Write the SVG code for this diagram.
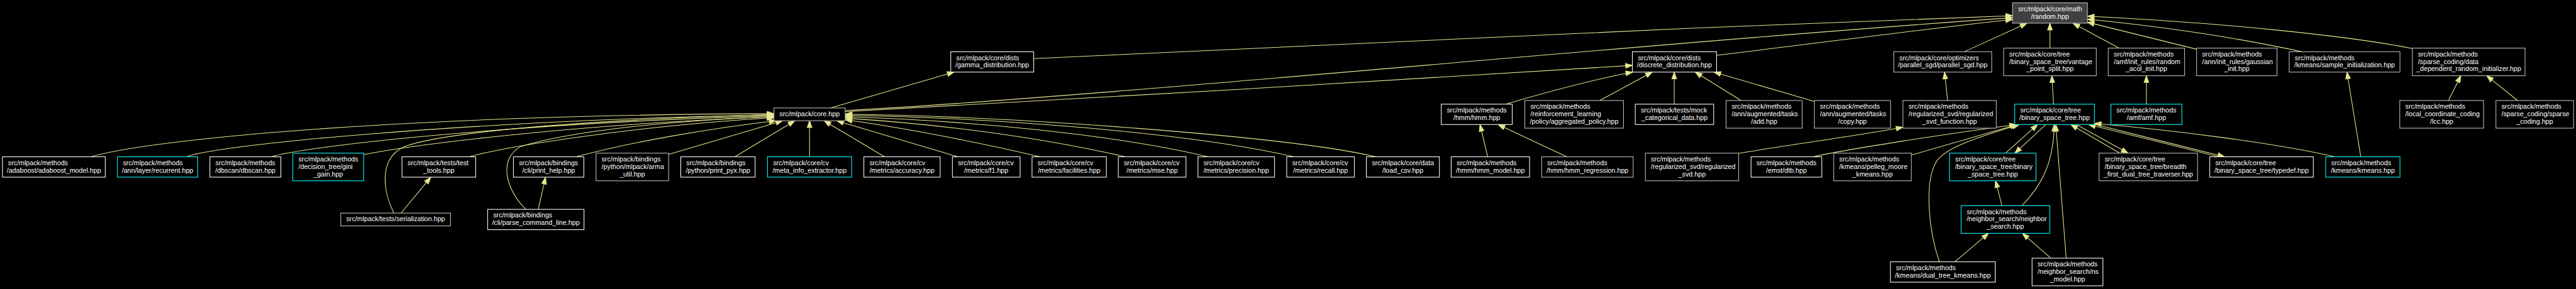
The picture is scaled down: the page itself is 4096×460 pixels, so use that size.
<svg xmlns="http://www.w3.org/2000/svg" width="4096" height="460" viewBox="0 0 4096 460">
<defs>
<marker id="ah" markerUnits="userSpaceOnUse" markerWidth="16" markerHeight="12" refX="13.3" refY="4.67" orient="auto" overflow="visible">
<path d="M0,0 L13.3,4.67 L0,9.33 Z" fill="#e6e68f" stroke="#e6e68f" stroke-width="1.33"/>
</marker>
<style>
.n rect{fill:#000;stroke:#fff;stroke-width:1.33}
.g rect{stroke:#bfbfbf}
.c rect{stroke:#00ffff}
.r rect{fill:#404040;stroke:#bfbfbf}
text{font-family:"Liberation Sans",Arial,Helvetica,sans-serif;font-size:13.33px;fill:#fff}
.m{text-anchor:middle}
.e path{fill:none;stroke:#e6e68f;stroke-width:1.33;marker-end:url(#ah)}
</style>
</defs>
<rect x="0" y="0" width="4096" height="460" fill="#000"/>
<g transform="scale(0.80393)">
<g id="edges" class="e">
<path d="M2044.5,116 C2400,98 3300,55 3980.5,31"/>
<path d="M1671.7,219 C2200,190 3200,90 3980.5,35"/>
<path d="M1671.7,221 C2100,200 2800,155 3228.6,129.5"/>
<path d="M3395.1,109.5 C3600,85 3800,58 3980.5,38.5"/>
<path d="M3885,102.45 L4009,45.9"/>
<path d="M4054.5,95.25 L4054.5,45.9"/>
<path d="M4191,95.25 L4100,45.9"/>
<path d="M4344.5,97.5 L4128.6,44"/>
<path d="M4553,102.45 C4450,80 4300,55 4128.6,38"/>
<path d="M4771.3,96 C4650,72 4400,45 4128.6,32"/>
<path d="M1643,213.75 L1887,142.75"/>
<path d="M2978.4,206.25 C3050,185 3150,158 3229,142.75"/>
<path d="M3164,199.05 L3268,142.75"/>
<path d="M3311.4,206.25 L3311.4,142.75"/>
<path d="M3443.7,199.05 L3353,142.75"/>
<path d="M3588.6,201 L3390,142.75"/>
<path d="M3852.2,199.05 L3846,142.75"/>
<path d="M4061.6,206.25 L4058.4,149.95"/>
<path d="M4245.3,206.25 L4245.3,149.95"/>
<path d="M4669.3,310.45 L4642,142.75"/>
<path d="M4842.8,199.05 L4867.2,149.95"/>
<path d="M4979.5,199.05 L4918.3,149.95"/>
<path d="M180,310.45 C300,275 800,228 1530.7,225"/>
<path d="M369.4,310.45 C420,288 900,240 1530.7,227"/>
<path d="M536.7,310.45 C600,290 1000,245 1530.7,229"/>
<path d="M719.2,306 C800,290 1100,248 1530.7,231"/>
<path d="M928,310.45 C1000,290 1250,250 1530.7,233"/>
<path d="M779,421.95 C760,385 745,315 800,290 C900,255 1250,234 1530.7,227"/>
<path d="M1040,414.45 C1000,375 985,315 1030,290 C1120,262 1300,240 1530.7,231"/>
<path d="M1140,310.45 C1250,280 1420,252 1535,239.05"/>
<path d="M1322.4,305.7 L1548,239.05"/>
<path d="M1453.5,310.45 L1572,239.05"/>
<path d="M1601.2,310.45 L1601.2,239.05"/>
<path d="M1749.4,310.45 L1630,239.05"/>
<path d="M1894.3,310.45 L1655,239.05"/>
<path d="M2056.7,310.45 C1950,285 1800,255 1671.7,237"/>
<path d="M2226,310.45 C2050,270 1850,245 1671.7,234"/>
<path d="M2389.4,310.45 C2200,265 1900,238 1671.7,231"/>
<path d="M2558.8,310.45 C2350,262 1950,232 1671.7,228.5"/>
<path d="M2721.2,310.45 C2550,270 2000,230 1671.7,226"/>
<path d="M793,421.95 L852,351"/>
<path d="M1064.5,414.45 L1079,351"/>
<path d="M2942.4,310.45 L2927.3,246.55"/>
<path d="M3098.8,310.45 L2963,246.55"/>
<path d="M3438.8,303.5 C3550,285 3680,268 3763.8,252"/>
<path d="M3585.7,310.45 C3650,296 3850,265 3988,246.55"/>
<path d="M3780.4,307 L3990,246.55"/>
<path d="M3836,518.35 C3815,460 3805,360 3830,320 C3845,295 3900,275 3994,246.55"/>
<path d="M3966.5,303.25 L4030,246.55"/>
<path d="M4046.6,246.55 L3985,303.25"/>
<path d="M3999.2,407.25 C4040,365 4062,320 4063,246.55"/>
<path d="M4086.7,511.15 L4066,246.55"/>
<path d="M4192.5,303.25 L4095.8,246.55"/>
<path d="M4106.8,246.55 L4208.9,303.25"/>
<path d="M4388,310.45 C4300,288 4200,264 4131,246.55"/>
<path d="M4142.5,246 C4220,266 4320,290 4400,310.45"/>
<path d="M4618.3,310.45 C4500,283 4300,258 4142.5,244.5"/>
<path d="M4056.3,511.15 L4000,462"/>
<path d="M3866.5,518.35 L3933,462"/>
<path d="M3959.6,407.25 L3947,357.95"/>
</g>
<g id="n_random" class="n r"><rect x="3980.5" y="5.6" width="148.1" height="40.3"/><text x="3991.5" y="22.1">src/mlpack/core/math</text><text class="m" x="4054.55" y="36.8">/random.hpp</text></g>
<g id="n_gamma" class="n"><rect x="1880.4" y="102.45" width="164.1" height="40.3"/><text x="1891.4" y="118.95">src/mlpack/core/dists</text><text class="m" x="1962.45" y="133.6">/gamma_distribution.hpp</text></g>
<g id="n_discrete" class="n"><rect x="3228.6" y="102.45" width="166.5" height="40.3"/><text x="3239.6" y="118.95">src/mlpack/core/dists</text><text class="m" x="3311.85" y="133.6">/discrete_distribution.hpp</text></g>
<g id="n_psgd" class="n g"><rect x="3745.6" y="102.45" width="193.7" height="40.3"/><text x="3756.6" y="118.95">src/mlpack/core/optimizers</text><text class="m" x="3842.45" y="133.6">/parallel_sgd/parallel_sgd.hpp</text></g>
<g id="n_vantage" class="n g"><rect x="3963" y="95.25" width="183.2" height="54.7"/><text x="3974" y="111.75">src/mlpack/core/tree</text><text x="3974" y="126.4">/binary_space_tree/vantage</text><text class="m" x="4054.6" y="141.1">_point_split.hpp</text></g>
<g id="n_acol" class="n g"><rect x="4169.8" y="95.25" width="151" height="54.7"/><text x="4180.8" y="111.75">src/mlpack/methods</text><text x="4180.8" y="126.4">/amf/init_rules/random</text><text class="m" x="4245.3" y="141.1">_acol_init.hpp</text></g>
<g id="n_gauss" class="n g"><rect x="4344.5" y="95.25" width="159.1" height="54.7"/><text x="4355.5" y="111.75">src/mlpack/methods</text><text x="4355.5" y="126.4">/ann/init_rules/gaussian</text><text class="m" x="4424.05" y="141.1">_init.hpp</text></g>
<g id="n_sample" class="n g"><rect x="4527.7" y="102.45" width="219.1" height="40.3"/><text x="4538.7" y="118.95">src/mlpack/methods</text><text class="m" x="4637.25" y="133.6">/kmeans/sample_initialization.hpp</text></g>
<g id="n_ddri" class="n g"><rect x="4771.3" y="95.25" width="222.9" height="54.7"/><text x="4782.3" y="111.75">src/mlpack/methods</text><text x="4782.3" y="126.4">/sparse_coding/data</text><text class="m" x="4882.75" y="141.1">_dependent_random_initializer.hpp</text></g>
<g id="n_core" class="n g"><rect x="1530.7" y="213.75" width="141" height="25.3"/><text class="m" x="1601.2" y="230.25">src/mlpack/core.hpp</text></g>
<g id="n_hmm" class="n"><rect x="2850.6" y="206.25" width="140.4" height="40.3"/><text x="2861.6" y="222.75">src/mlpack/methods</text><text class="m" x="2920.8" y="237.4">/hmm/hmm.hpp</text></g>
<g id="n_aggpol" class="n g"><rect x="3015.9" y="199.05" width="195.1" height="54.7"/><text x="3026.9" y="215.55">src/mlpack/methods</text><text x="3026.9" y="230.2">/reinforcement_learning</text><text class="m" x="3113.45" y="244.9">/policy/aggregated_policy.hpp</text></g>
<g id="n_mock" class="n"><rect x="3234.3" y="206.25" width="155.1" height="40.3"/><text x="3245.3" y="222.75">src/mlpack/tests/mock</text><text class="m" x="3311.85" y="237.4">_categorical_data.hpp</text></g>
<g id="n_add" class="n g"><rect x="3413.9" y="199.05" width="150.6" height="54.7"/><text x="3424.9" y="215.55">src/mlpack/methods</text><text x="3424.9" y="230.2">/ann/augmented/tasks</text><text class="m" x="3489.2" y="244.9">/add.hpp</text></g>
<g id="n_copy" class="n g"><rect x="3588.6" y="199.05" width="150.6" height="54.7"/><text x="3599.6" y="215.55">src/mlpack/methods</text><text x="3599.6" y="230.2">/ann/augmented/tasks</text><text class="m" x="3663.9" y="244.9">/copy.hpp</text></g>
<g id="n_rsvdf" class="n g"><rect x="3763.8" y="199.05" width="184.6" height="54.7"/><text x="3774.8" y="215.55">src/mlpack/methods</text><text x="3774.8" y="230.2">/regularized_svd/regularized</text><text class="m" x="3856.1" y="244.9">_svd_function.hpp</text></g>
<g id="n_bsth" class="n c"><rect x="3984.9" y="206.25" width="157.6" height="40.3"/><text x="3995.9" y="222.75">src/mlpack/core/tree</text><text class="m" x="4063.7" y="237.4">/binary_space_tree.hpp</text></g>
<g id="n_amf" class="n c"><rect x="4175.1" y="206.25" width="140.4" height="40.3"/><text x="4186.1" y="222.75">src/mlpack/methods</text><text class="m" x="4245.3" y="237.4">/amf/amf.hpp</text></g>
<g id="n_lcc" class="n g"><rect x="4746.4" y="199.05" width="165.7" height="54.7"/><text x="4757.4" y="215.55">src/mlpack/methods</text><text x="4757.4" y="230.2">/local_coordinate_coding</text><text class="m" x="4829.25" y="244.9">/lcc.hpp</text></g>
<g id="n_sc" class="n g"><rect x="4936.6" y="199.05" width="153.5" height="54.7"/><text x="4947.6" y="215.55">src/mlpack/methods</text><text x="4947.6" y="230.2">/sparse_coding/sparse</text><text class="m" x="5013.35" y="244.9">_coding.hpp</text></g>
<g id="n_ada" class="n"><rect x="4.9" y="310.45" width="203.3" height="40.3"/><text x="15.9" y="326.95">src/mlpack/methods</text><text class="m" x="106.55" y="341.6">/adaboost/adaboost_model.hpp</text></g>
<g id="n_recur" class="n c"><rect x="232.2" y="310.45" width="158.8" height="40.3"/><text x="243.2" y="326.95">src/mlpack/methods</text><text class="m" x="311.6" y="341.6">/ann/layer/recurrent.hpp</text></g>
<g id="n_dbscan" class="n"><rect x="415.1" y="310.45" width="140.4" height="40.3"/><text x="426.1" y="326.95">src/mlpack/methods</text><text class="m" x="485.3" y="341.6">/dbscan/dbscan.hpp</text></g>
<g id="n_gini" class="n c"><rect x="579.2" y="303.25" width="140" height="54.7"/><text x="590.2" y="319.75">src/mlpack/methods</text><text x="590.2" y="334.4">/decision_tree/gini</text><text class="m" x="649.2" y="349.1">_gain.hpp</text></g>
<g id="n_testtools" class="n"><rect x="795.1" y="310.45" width="145.7" height="40.3"/><text x="806.1" y="326.95">src/mlpack/tests/test</text><text class="m" x="867.95" y="341.6">_tools.hpp</text></g>
<g id="n_printhelp" class="n"><rect x="1015.5" y="310.45" width="139.2" height="40.3"/><text x="1026.5" y="326.95">src/mlpack/bindings</text><text class="m" x="1085.1" y="341.6">/cli/print_help.hpp</text></g>
<g id="n_armautil" class="n g"><rect x="1178.8" y="303.25" width="143.6" height="54.7"/><text x="1189.8" y="319.75">src/mlpack/bindings</text><text x="1189.8" y="334.4">/python/mlpack/arma</text><text class="m" x="1250.6" y="349.1">_util.hpp</text></g>
<g id="n_printpyx" class="n"><rect x="1346.5" y="310.45" width="147" height="40.3"/><text x="1357.5" y="326.95">src/mlpack/bindings</text><text class="m" x="1420" y="341.6">/python/print_pyx.hpp</text></g>
<g id="n_meta" class="n c"><rect x="1518" y="310.45" width="166.5" height="40.3"/><text x="1529" y="326.95">src/mlpack/core/cv</text><text class="m" x="1601.25" y="341.6">/meta_info_extractor.hpp</text></g>
<g id="n_acc" class="n"><rect x="1708.6" y="310.45" width="151" height="40.3"/><text x="1719.6" y="326.95">src/mlpack/core/cv</text><text class="m" x="1784.1" y="341.6">/metrics/accuracy.hpp</text></g>
<g id="n_f1" class="n"><rect x="1883.7" y="310.45" width="133.9" height="40.3"/><text x="1894.7" y="326.95">src/mlpack/core/cv</text><text class="m" x="1950.65" y="341.6">/metrics/f1.hpp</text></g>
<g id="n_fac" class="n"><rect x="2041.2" y="310.45" width="147" height="40.3"/><text x="2052.2" y="326.95">src/mlpack/core/cv</text><text class="m" x="2114.7" y="341.6">/metrics/facilities.hpp</text></g>
<g id="n_mse" class="n"><rect x="2211.8" y="310.45" width="133.9" height="40.3"/><text x="2222.8" y="326.95">src/mlpack/core/cv</text><text class="m" x="2278.75" y="341.6">/metrics/mse.hpp</text></g>
<g id="n_prec" class="n"><rect x="2369.4" y="310.45" width="151.4" height="40.3"/><text x="2380.4" y="326.95">src/mlpack/core/cv</text><text class="m" x="2445.1" y="341.6">/metrics/precision.hpp</text></g>
<g id="n_recall" class="n"><rect x="2544.9" y="310.45" width="133.9" height="40.3"/><text x="2555.9" y="326.95">src/mlpack/core/cv</text><text class="m" x="2611.85" y="341.6">/metrics/recall.hpp</text></g>
<g id="n_loadcsv" class="n"><rect x="2702.4" y="310.45" width="144.5" height="40.3"/><text x="2713.4" y="326.95">src/mlpack/core/data</text><text class="m" x="2774.65" y="341.6">/load_csv.hpp</text></g>
<g id="n_hmmmodel" class="n"><rect x="2870.2" y="310.45" width="155.1" height="40.3"/><text x="2881.2" y="326.95">src/mlpack/methods</text><text class="m" x="2947.75" y="341.6">/hmm/hmm_model.hpp</text></g>
<g id="n_hmmreg" class="n g"><rect x="3049.4" y="310.45" width="180.8" height="40.3"/><text x="3060.4" y="326.95">src/mlpack/methods</text><text class="m" x="3139.8" y="341.6">/hmm/hmm_regression.hpp</text></g>
<g id="n_rsvd" class="n g"><rect x="3254.3" y="303.25" width="184.5" height="54.7"/><text x="3265.3" y="319.75">src/mlpack/methods</text><text x="3265.3" y="334.4">/regularized_svd/regularized</text><text class="m" x="3346.55" y="349.1">_svd.hpp</text></g>
<g id="n_dtb" class="n"><rect x="3463.3" y="310.45" width="140" height="40.3"/><text x="3474.3" y="326.95">src/mlpack/methods</text><text class="m" x="3533.3" y="341.6">/emst/dtb.hpp</text></g>
<g id="n_pelleg" class="n g"><rect x="3626.9" y="303.25" width="153.5" height="54.7"/><text x="3637.9" y="319.75">src/mlpack/methods</text><text x="3637.9" y="334.4">/kmeans/pelleg_moore</text><text class="m" x="3703.65" y="349.1">_kmeans.hpp</text></g>
<g id="n_bstbst" class="n c"><rect x="3855.8" y="303.25" width="171.1" height="54.7"/><text x="3866.8" y="319.75">src/mlpack/core/tree</text><text x="3866.8" y="334.4">/binary_space_tree/binary</text><text class="m" x="3941.35" y="349.1">_space_tree.hpp</text></g>
<g id="n_bf" class="n g"><rect x="4151.7" y="303.25" width="194.8" height="54.7"/><text x="4162.7" y="319.75">src/mlpack/core/tree</text><text x="4162.7" y="334.4">/binary_space_tree/breadth</text><text class="m" x="4249.1" y="349.1">_first_dual_tree_traverser.hpp</text></g>
<g id="n_typedef" class="n"><rect x="4370.6" y="310.45" width="204.8" height="40.3"/><text x="4381.6" y="326.95">src/mlpack/core/tree</text><text class="m" x="4473" y="341.6">/binary_space_tree/typedef.hpp</text></g>
<g id="n_kmeans" class="n c"><rect x="4599.9" y="310.45" width="146.9" height="40.3"/><text x="4610.9" y="326.95">src/mlpack/methods</text><text class="m" x="4673.35" y="341.6">/kmeans/kmeans.hpp</text></g>
<g id="n_serial" class="n g"><rect x="673.9" y="421.95" width="217.1" height="25.3"/><text class="m" x="782.45" y="438.45">src/mlpack/tests/serialization.hpp</text></g>
<g id="n_parse" class="n"><rect x="964.5" y="414.45" width="190.6" height="40.3"/><text x="975.5" y="430.95">src/mlpack/bindings</text><text class="m" x="1059.8" y="445.6">/cli/parse_command_line.hpp</text></g>
<g id="n_ns" class="n c"><rect x="3878.8" y="407.25" width="175.4" height="54.7"/><text x="3889.8" y="423.75">src/mlpack/methods</text><text x="3889.8" y="438.4">/neighbor_search/neighbor</text><text class="m" x="3966.5" y="453.1">_search.hpp</text></g>
<g id="n_dtk" class="n"><rect x="3739" y="518.35" width="207.3" height="40.3"/><text x="3750" y="534.85">src/mlpack/methods</text><text class="m" x="3842.65" y="549.5">/kmeans/dual_tree_kmeans.hpp</text></g>
<g id="n_nsmodel" class="n"><rect x="4019.2" y="511.15" width="140.1" height="54.7"/><text x="4030.2" y="527.65">src/mlpack/methods</text><text x="4030.2" y="542.3">/neighbor_search/ns</text><text class="m" x="4089.25" y="557">_model.hpp</text></g>
</g>
</svg>
